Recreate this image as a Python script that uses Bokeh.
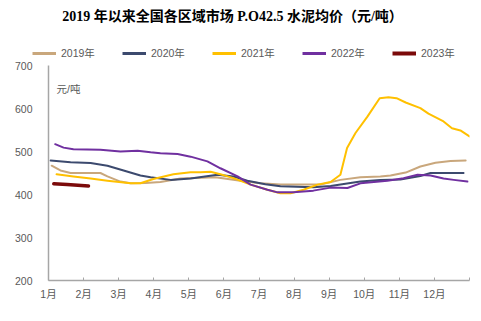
from bokeh.plotting import figure
from bokeh.layouts import column
from bokeh.models import Range1d, FixedTicker, Legend, LegendItem, Label
from bokeh.embed import file_html
from bokeh.resources import INLINE

# ---- data (x in months since Jan 1, y in 元/吨) ----
x2019 = [0.09, 0.34, 0.63, 1.48, 1.68, 2.05, 2.34, 2.77, 3.19, 3.76, 4.76, 5.47, 6.04, 6.61,
         7.75, 8.32, 8.89, 9.46, 9.75, 10.18, 10.60, 11.03, 11.46, 11.89]
y2019 = [467, 456, 450, 450, 442, 430, 426, 427, 429, 437, 440, 432, 426, 423,
         423, 434, 440, 442, 444, 451, 465, 474, 478, 479]

x2020 = [0.06, 0.63, 1.20, 1.68, 2.14, 2.62, 2.91, 3.48, 4.05, 4.82, 5.27, 5.67, 6.18, 6.61,
         7.55, 8.04, 8.89, 9.46, 10.03, 10.60, 10.89, 11.32, 11.83]
y2020 = [479, 475, 473, 467, 456, 444, 440, 434, 437, 446, 442, 432, 424, 419,
         417, 420, 430, 434, 435, 443, 450, 450, 450]

x2021 = [0.23, 0.71, 1.20, 1.68, 2.34, 2.62, 2.99, 3.56, 4.05, 4.33, 4.62, 4.90, 5.27, 5.76,
         6.24, 6.61, 6.90, 7.27, 7.67, 8.04, 8.32, 8.51, 8.75, 9.09, 9.44, 9.69, 9.92, 10.18,
         10.60, 10.83, 11.26, 11.50, 11.74, 12.0]
y2021 = [447, 442, 437, 432, 426, 426, 436, 447, 452, 452, 453, 447, 438, 423,
         411, 403, 403, 411, 423, 429, 446, 508, 543, 581, 624, 626, 624, 614,
         601, 588, 570, 554, 549, 535]

x2022 = [0.19, 0.43, 0.71, 1.48, 2.05, 2.54, 2.91, 3.19, 3.68, 4.05, 4.53, 4.90, 5.39, 5.76,
         6.24, 6.53, 6.98, 7.55, 8.04, 8.52, 8.89, 9.66, 10.12, 10.52, 10.89, 11.26, 11.55, 11.94]
y2022 = [517, 509, 505, 504, 500, 502, 498, 496, 494, 488, 477, 461, 442, 423,
         411, 405, 405, 409, 416, 415, 426, 432, 438, 446, 444, 437, 434, 430]

x2023 = [0.15, 0.53, 1.14]
y2023 = [425, 423, 420]

series_names = ["2019年", "2020年", "2021年", "2022年", "2023年"]
month_labels = ["1月", "2月", "3月", "4月", "5月", "6月", "7月", "8月", "9月", "10月", "11月", "12月", ""]
y_ticks = [200, 300, 400, 500, 600, 700]
title_text = "2019 年以来全国各区域市场 P.O42.5 水泥均价（元/吨）"
unit_text = "元/吨"

colors = ["#C9A77C", "#3C4A6E", "#FFC000", "#7030A0", "#7B0A0A"]
widths = [2, 2, 2, 2, 3.5]
legend_widths = [3, 3, 3, 3, 4]

FONT = "Liberation Sans, Noto Sans CJK SC, sans-serif"

# ---------- header figure: title + legend ----------
TOP_H = 60
head = figure(width=481, height=TOP_H, output_backend="svg", toolbar_location=None,
              x_range=Range1d(0, 481), y_range=Range1d(TOP_H, 0),
              x_axis_type=None, y_axis_type=None, min_border=0)
head.frame_align = False
head.outline_line_color = None
head.xgrid.grid_line_color = None
head.ygrid.grid_line_color = None

head.add_layout(Label(x=232, y=16, text=title_text,
                      text_align="center", text_baseline="middle",
                      text_font="Liberation Serif, Noto Sans CJK SC, serif",
                      text_font_style="bold", text_font_size="14px", text_color="#000000"))

# off-range placeholder lines that only carry the legend styles
dummy = []
for c, w in zip(colors, legend_widths):
    dummy.append(head.line(x=[-20, -10], y=[-20, -20], line_color=c, line_width=w))
items = [LegendItem(label=n, renderers=[r]) for n, r in zip(series_names, dummy)]
legend = Legend(items=items, orientation="horizontal", location=(32, 0),
                border_line_color=None, background_fill_alpha=0,
                padding=0, margin=0, spacing=25, glyph_width=24, glyph_height=12,
                label_standoff=5, label_width=36, label_height=12,
                label_text_font_size="10.5px", label_text_color="#595959",
                label_text_font=FONT)
head.add_layout(legend)

# ---------- main chart ----------
p = figure(width=481, height=321 - TOP_H, output_backend="svg", toolbar_location=None,
           x_range=Range1d(0, 12), y_range=Range1d(200, 700),
           min_border_left=48, min_border_right=12, min_border_top=5, min_border_bottom=41)
p.frame_align = False
p.outline_line_color = None
p.xgrid.grid_line_color = None
p.ygrid.grid_line_color = None

xs = [x2019, x2020, x2021, x2022, x2023]
ys = [y2019, y2020, y2021, y2022, y2023]
for x, y, c, w in zip(xs, ys, colors, widths):
    p.line(x, y, line_color=c, line_width=w, line_join="round", line_cap="round")

p.xaxis.ticker = FixedTicker(ticks=list(range(13)))
p.xaxis.major_label_overrides = {i: lab for i, lab in enumerate(month_labels)}
p.xaxis.minor_tick_line_color = None
p.xaxis.major_tick_in = 3
p.xaxis.major_tick_out = 0
p.xaxis.major_tick_line_color = "#A6A6A6"
p.xaxis.axis_line_color = "#A6A6A6"
p.xaxis.axis_line_width = 1.5
p.xaxis.major_label_standoff = 7
p.xaxis.major_label_text_font_size = "10.5px"
p.xaxis.major_label_text_color = "#595959"
p.xaxis.major_label_text_font = FONT

p.yaxis.ticker = FixedTicker(ticks=y_ticks)
p.yaxis.minor_tick_line_color = None
p.yaxis.major_tick_line_color = None
p.yaxis.axis_line_color = "#A6A6A6"
p.yaxis.axis_line_width = 1.5
p.yaxis.major_label_standoff = 10
p.yaxis.major_label_text_font_size = "10.5px"
p.yaxis.major_label_text_color = "#595959"
p.yaxis.major_label_text_font = FONT

p.add_layout(Label(x=8, y=192, x_units="screen", y_units="screen",
                   text=unit_text, text_align="left", text_baseline="middle",
                   text_font=FONT, text_font_size="10.5px", text_color="#595959"))

layout = column(head, p, spacing=0)
open("out.html", "w").write(file_html(layout, INLINE))
